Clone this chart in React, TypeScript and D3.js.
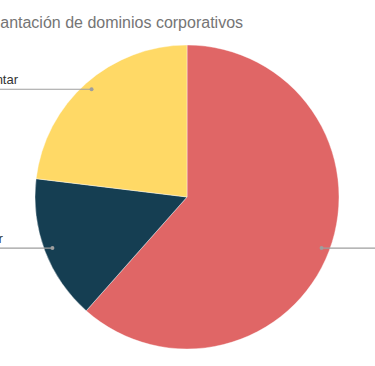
import React, { useEffect, useRef } from 'react';
import * as d3 from 'd3';

// data (slices go clockwise from 12 o'clock)
const categories = ['Implantado', 'Sin implantar', 'Prevé implantar'];
const values = [8, 2, 3];
const colors = ['#e06666', '#153e52', '#ffd966'];
const title = 'Implantación de dominios corporativos';

const App = () => {
  const ref = useRef<SVGSVGElement>(null);

  useEffect(() => {
    const width = 375;
    const height = 366;
    const cx = 187;
    const cy = 197;
    const radius = 152;

    const svg = d3.select(ref.current);
    svg.selectAll('*').remove();

    // title, starts left of the visible area like the original
    svg.append('text')
      .attr('x', -30)
      .attr('y', 28)
      .attr('font-family', 'Arial, "Liberation Sans", sans-serif')
      .attr('font-size', 16)
      .attr('fill', '#757575')
      .text(title);

    const data = categories.map((c, i) => ({ name: c, value: values[i], color: colors[i] }));

    const pie = d3.pie<any>()
      .sort(null)
      .value(d => d.value);

    const arc = d3.arc<any>()
      .innerRadius(0)
      .outerRadius(radius);

    const g = svg.append('g')
      .attr('transform', `translate(${cx},${cy})`);

    const arcs = pie(data);

    g.selectAll('path')
      .data(arcs)
      .enter()
      .append('path')
      .attr('d', arc)
      .attr('fill', d => d.data.color)
      .attr('stroke', '#fff')
      .attr('stroke-width', 0.4);

    // leader lines with a dot inside the slice
    const dotR = radius * 0.947;
    const labelStartLeft = -73;
    const labelStartRight = 382;

    arcs.forEach(a => {
      const mid = (a.startAngle + a.endAngle) / 2;
      const x = cx + dotR * Math.sin(mid);
      const y = cy - dotR * Math.cos(mid);
      const left = Math.sin(mid) < 0;

      const txt = svg.append('text')
        .attr('y', y - 5)
        .attr('font-family', 'Arial, "Liberation Sans", sans-serif')
        .attr('font-size', 13)
        .attr('fill', '#333')
        .text(a.data.name);

      let x0;
      if (left) {
        txt.attr('x', labelStartLeft);
        x0 = labelStartLeft;
      } else {
        txt.attr('x', labelStartRight);
        const w = (txt.node() as SVGTextElement).getComputedTextLength();
        x0 = labelStartRight + w;
      }

      svg.append('line')
        .attr('x1', x0)
        .attr('x2', x)
        .attr('y1', y)
        .attr('y2', y)
        .attr('stroke', '#9e9e9e')
        .attr('stroke-width', 1.2);

      svg.append('circle')
        .attr('cx', x)
        .attr('cy', y)
        .attr('r', 2)
        .attr('fill', '#9e9e9e');
    });

    svg.attr('width', width).attr('height', height);
  }, []);

  return (
    <svg
      ref={ref}
      width={375}
      height={366}
      style={{ position: 'absolute', left: 0, top: 0, display: 'block', background: '#fff' }}
    />
  );
};

export default App;
